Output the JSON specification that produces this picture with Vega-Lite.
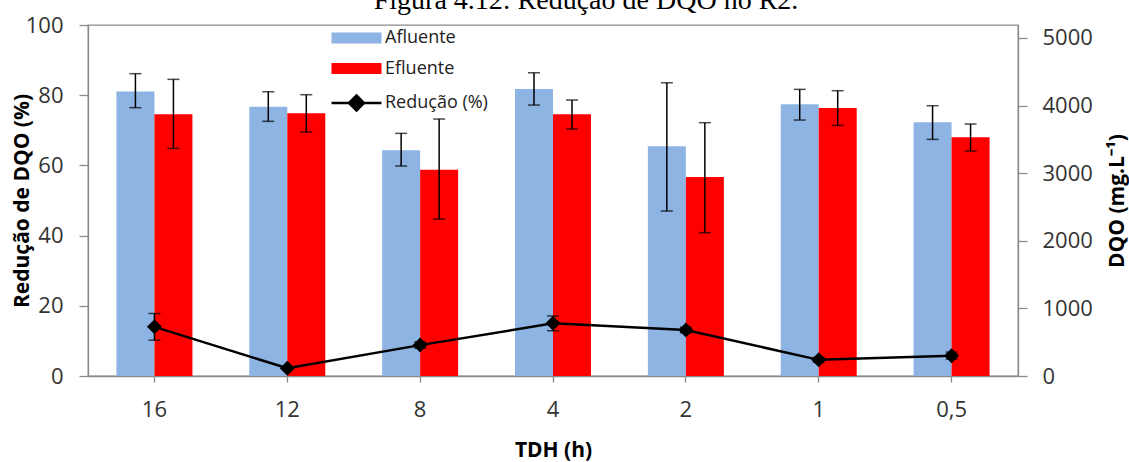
{
  "$schema": "https://vega.github.io/schema/vega-lite/v6.json",
  "width": 930,
  "height": 351,
  "autosize": {"type": "none"},
  "padding": {"left": 88, "top": 25, "right": 111, "bottom": 86},
  "background": "white",
  "config": {
    "view": {"stroke": "#8a8a8a", "strokeWidth": 1.3},
    "font": "Open Sans",
    "axis": {
      "grid": false,
      "domainColor": "#8a8a8a",
      "domainWidth": 1.3,
      "tickColor": "#8a8a8a",
      "tickWidth": 1.3,
      "labelFont": "Open Sans",
      "labelFontSize": 22,
      "labelColor": "#333333",
      "titleFont": "Open Sans",
      "titleFontSize": 21,
      "titleFontWeight": "bold",
      "titleColor": "#000000"
    }
  },
  "title": {
    "text": "Figura 4.12: Redução de DQO no R2.",
    "font": "Liberation Serif",
    "fontSize": 28,
    "fontWeight": "normal",
    "color": "#000000",
    "anchor": "middle",
    "frame": "group",
    "baseline": "alphabetic",
    "offset": -22.5,
    "dx": 33
  },
  "datasets": {
    "dqo": [
      {"tdh": "16", "serie": "Afluente", "dqo": 4210, "lo": 3969, "hi": 4472},
      {"tdh": "16", "serie": "Efluente", "dqo": 3870, "lo": 3367, "hi": 4388},
      {"tdh": "12", "serie": "Afluente", "dqo": 3983, "lo": 3767, "hi": 4205},
      {"tdh": "12", "serie": "Efluente", "dqo": 3885, "lo": 3609, "hi": 4161},
      {"tdh": "8", "serie": "Afluente", "dqo": 3338, "lo": 3106, "hi": 3589},
      {"tdh": "8", "serie": "Efluente", "dqo": 3052, "lo": 2322, "hi": 3801},
      {"tdh": "4", "serie": "Afluente", "dqo": 4245, "lo": 4008, "hi": 4486},
      {"tdh": "4", "serie": "Efluente", "dqo": 3870, "lo": 3653, "hi": 4082},
      {"tdh": "2", "serie": "Afluente", "dqo": 3397, "lo": 2440, "hi": 4338},
      {"tdh": "2", "serie": "Efluente", "dqo": 2943, "lo": 2120, "hi": 3747},
      {"tdh": "1", "serie": "Afluente", "dqo": 4018, "lo": 3786, "hi": 4240},
      {"tdh": "1", "serie": "Efluente", "dqo": 3964, "lo": 3707, "hi": 4220},
      {"tdh": "0,5", "serie": "Afluente", "dqo": 3752, "lo": 3500, "hi": 3998},
      {"tdh": "0,5", "serie": "Efluente", "dqo": 3530, "lo": 3328, "hi": 3727}
    ],
    "reducao": [
      {"tdh": "16", "red": 14.0, "lo": 10.2, "hi": 17.8},
      {"tdh": "12", "red": 2.2, "lo": null, "hi": null},
      {"tdh": "8", "red": 8.8, "lo": 7.9, "hi": 9.7},
      {"tdh": "4", "red": 15.0, "lo": 12.9, "hi": 17.1},
      {"tdh": "2", "red": 13.1, "lo": 12.3, "hi": 13.9},
      {"tdh": "1", "red": 4.6, "lo": 3.9, "hi": 5.3},
      {"tdh": "0,5", "red": 5.8, "lo": 4.8, "hi": 6.8}
    ]
  },
  "layer": [
    {
      "data": {"name": "dqo"},
      "layer": [
        {
          "mark": {"type": "bar"},
          "encoding": {
            "x": {
              "field": "tdh", "type": "nominal",
              "sort": ["16", "12", "8", "4", "2", "1", "0,5"],
              "scale": {"paddingInner": 0.428, "paddingOuter": 0.214},
              "axis": {
                "title": "TDH (h)",
                "labelAngle": 0,
                "tickSize": 6,
                "labelPadding": 17,
                "titleX": 465,
                "titleY": 74,
                "titleBaseline": "middle",
                "titleAlign": "center"
              }
            },
            "xOffset": {
              "field": "serie", "type": "nominal",
              "sort": ["Afluente", "Efluente"],
              "scale": {"paddingInner": 0, "paddingOuter": 0}
            },
            "y": {
              "field": "dqo", "type": "quantitative",
              "scale": {"domain": [0, 5192], "nice": false, "zero": true},
              "axis": {
                "orient": "right",
                "values": [0, 1000, 2000, 3000, 4000, 5000],
                "format": "d",
                "title": "DQO (mg.L⁻¹)",
                "tickSize": 9,
                "labelPadding": 15,
                "titleAngle": -90,
                "titleX": 99,
                "titleY": 175.5,
                "titleBaseline": "middle",
                "titleAlign": "center"
              }
            },
            "color": {
              "field": "serie", "type": "nominal",
              "scale": {
                "domain": ["Afluente", "Efluente", "Redução (%)"],
                "range": ["#8DB4E2", "#FF0000", "#000000"]
              },
              "legend": {
                "orient": "none",
                "legendX": 259.5,
                "legendY": 4,
                "title": null,
                "padding": 0,
                "symbolSize": 2500,
                "labelFont": "Open Sans",
                "labelFontSize": 18,
                "labelColor": "#222222",
                "labelOffset": 19.5,
                "rowPadding": 12.5,
                "encode": {
                  "symbols": {
                    "update": {
                      "shape": {"signal": "datum.label === 'Redução (%)' ? 'M-1,0H1M0,-0.3L0.3,0L0,0.3L-0.3,0Z' : 'M-1,-0.22H1V0.22H-1Z'"},
                      "fill": {"signal": "datum.label === 'Afluente' ? '#8DB4E2' : (datum.label === 'Efluente' ? '#FF0000' : '#000000')"},
                      "stroke": {"signal": "datum.label === 'Redução (%)' ? '#000000' : 'transparent'"},
                      "strokeWidth": {"signal": "datum.label === 'Redução (%)' ? 2.5 : 0"},
                      "opacity": {"value": 1}
                    }
                  }
                }
              }
            }
          }
        },
        {
          "mark": {"type": "rule", "color": "#000000", "strokeWidth": 1.5},
          "encoding": {
            "x": {"field": "tdh", "type": "nominal", "sort": ["16", "12", "8", "4", "2", "1", "0,5"]},
            "xOffset": {"field": "serie", "type": "nominal", "sort": ["Afluente", "Efluente"]},
            "y": {"field": "lo", "type": "quantitative", "scale": {"domain": [0, 5192], "nice": false, "zero": true}},
            "y2": {"field": "hi"}
          }
        },
        {
          "mark": {"type": "tick", "color": "#000000", "thickness": 1.5, "size": 12},
          "encoding": {
            "x": {"field": "tdh", "type": "nominal", "sort": ["16", "12", "8", "4", "2", "1", "0,5"]},
            "xOffset": {"field": "serie", "type": "nominal", "sort": ["Afluente", "Efluente"]},
            "y": {"field": "lo", "type": "quantitative", "scale": {"domain": [0, 5192], "nice": false, "zero": true}}
          }
        },
        {
          "mark": {"type": "tick", "color": "#000000", "thickness": 1.5, "size": 12},
          "encoding": {
            "x": {"field": "tdh", "type": "nominal", "sort": ["16", "12", "8", "4", "2", "1", "0,5"]},
            "xOffset": {"field": "serie", "type": "nominal", "sort": ["Afluente", "Efluente"]},
            "y": {"field": "hi", "type": "quantitative", "scale": {"domain": [0, 5192], "nice": false, "zero": true}}
          }
        }
      ]
    },
    {
      "data": {"name": "reducao"},
      "layer": [
        {
          "mark": {"type": "line", "color": "#000000", "strokeWidth": 2.5},
          "encoding": {
            "x": {"field": "tdh", "type": "nominal", "sort": ["16", "12", "8", "4", "2", "1", "0,5"]},
            "y": {
              "field": "red", "type": "quantitative",
              "scale": {"domain": [0, 100], "nice": false},
              "axis": {
                "orient": "left",
                "values": [0, 20, 40, 60, 80, 100],
                "title": "Redução de DQO (%)",
                "tickSize": 9,
                "labelPadding": 16,
                "titleAngle": -90,
                "titleX": -66,
                "titleY": 175.5,
                "titleBaseline": "middle",
                "titleAlign": "center"
              }
            }
          }
        },
        {
          "mark": {"type": "rule", "color": "#000000", "strokeWidth": 1.5},
          "encoding": {
            "x": {"field": "tdh", "type": "nominal", "sort": ["16", "12", "8", "4", "2", "1", "0,5"]},
            "y": {"field": "lo", "type": "quantitative", "scale": {"domain": [0, 100], "nice": false}},
            "y2": {"field": "hi"}
          }
        },
        {
          "mark": {"type": "tick", "color": "#000000", "thickness": 1.5, "size": 12},
          "encoding": {
            "x": {"field": "tdh", "type": "nominal", "sort": ["16", "12", "8", "4", "2", "1", "0,5"]},
            "y": {"field": "lo", "type": "quantitative", "scale": {"domain": [0, 100], "nice": false}}
          }
        },
        {
          "mark": {"type": "tick", "color": "#000000", "thickness": 1.5, "size": 12},
          "encoding": {
            "x": {"field": "tdh", "type": "nominal", "sort": ["16", "12", "8", "4", "2", "1", "0,5"]},
            "y": {"field": "hi", "type": "quantitative", "scale": {"domain": [0, 100], "nice": false}}
          }
        },
        {
          "mark": {"type": "point", "shape": "diamond", "filled": true, "color": "#000000", "size": 225, "opacity": 1},
          "encoding": {
            "x": {"field": "tdh", "type": "nominal", "sort": ["16", "12", "8", "4", "2", "1", "0,5"]},
            "y": {"field": "red", "type": "quantitative", "scale": {"domain": [0, 100], "nice": false}}
          }
        }
      ]
    }
  ],
  "resolve": {"scale": {"y": "independent"}, "axis": {"y": "independent"}}
}
